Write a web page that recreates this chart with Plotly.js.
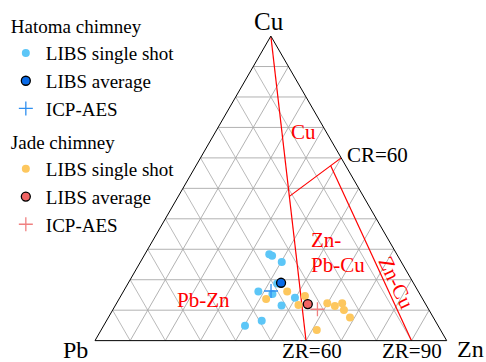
<!DOCTYPE html>
<html>
<head>
<meta charset="utf-8">
<script src="https://cdn.plot.ly/plotly-3.0.1.min.js"></script>
<style>
  html, body { margin: 0; padding: 0; background: #fff; }
  #chart { width: 486px; height: 362px; }
</style>
</head>
<body>
<div id="chart"></div>
<script>
// Cu–Pb–Zn compositions (wt% of Cu+Pb+Zn)
const hatomaShotCu = [28.4, 27.9, 25.8, 16.1, 15.3, 18.8, 11.5, 14.1, 6.5, 4.9];
const hatomaShotPb = [36.3, 35.7, 34.0, 45.5, 41.9, 38.8, 41.2, 36.1, 49.4, 54.9];
const hatomaShotZn = [35.4, 36.4, 40.2, 38.4, 42.8, 42.4, 47.3, 49.8, 44.2, 40.2];
const hatomaAvgCu = [19.0], hatomaAvgPb = [37.6], hatomaAvgZn = [43.4];
const hatomaIcpCu = [16.3], hatomaIcpPb = [41.8], hatomaIcpZn = [41.9];

const jadeShotCu = [13.7, 16.1, 11.7, 14.7, 12.3, 11.4, 12.3, 10.1, 7.6, 3.5];
const jadeShotPb = [44.5, 37.3, 36.3, 33.0, 27.8, 26.1, 23.6, 24.2, 23.7, 35.2];
const jadeShotZn = [41.8, 46.6, 52.0, 52.4, 59.9, 62.5, 64.2, 65.8, 68.7, 61.3];
const jadeAvgCu = [12.0], jadeAvgPb = [33.5], jadeAvgZn = [54.5];
const jadeIcpCu = [10.3], jadeIcpPb = [31.6], jadeIcpZn = [58.1];

// Ore-type boundaries: ZR = 100*Zn/(Zn+Pb), CR = 100*Cu/(Cu+Zn)
const zr60Cu = [100, 0],       zr60Pb = [0, 40],      zr60Zn = [0, 60];
const cr60Cu = [60, 47.37],    cr60Pb = [0, 21.05],   cr60Zn = [40, 31.58];
const zr90Cu = [57.45, 0],     zr90Pb = [4.26, 10],   zr90Zn = [38.30, 90];

const serif = 'Liberation Serif';
const W = 486, H = 362;
const px = x => x / W;
const py = y => 1 - y / H;

function pts(name, group, groupTitle, a, b, c, marker, first) {
  const t = {
    type: 'scatterternary', mode: 'markers', name: name,
    a: a, b: b, c: c, marker: marker,
    legendgroup: group, hoverinfo: 'skip', cliponaxis: false
  };
  if (first) t.legendgrouptitle = { text: groupTitle, font: { family: serif, size: 19, color: '#000' } };
  return t;
}
function boundary(a, b, c) {
  return {
    type: 'scatterternary', mode: 'lines', a: a, b: b, c: c,
    line: { color: '#ff0000', width: 1.2 }, showlegend: false, hoverinfo: 'skip'
  };
}

const traces = [
  boundary(zr60Cu, zr60Pb, zr60Zn),
  boundary(cr60Cu, cr60Pb, cr60Zn),
  boundary(zr90Cu, zr90Pb, zr90Zn),
  pts('LIBS single shot', 'hatoma', 'Hatoma chimney', hatomaShotCu, hatomaShotPb, hatomaShotZn,
      { color: '#5cc6f7', size: 8 }, true),
  pts('LIBS average', 'hatoma', '', hatomaAvgCu, hatomaAvgPb, hatomaAvgZn,
      { color: '#0a6be8', size: 9, line: { color: '#000', width: 1.3 } }),
  pts('ICP-AES', 'hatoma', '', hatomaIcpCu, hatomaIcpPb, hatomaIcpZn,
      { color: '#2f8ff0', size: 10, symbol: 'cross-thin', line: { color: '#2f8ff0', width: 1.3 } }),
  pts('LIBS single shot', 'jade', 'Jade chimney', jadeShotCu, jadeShotPb, jadeShotZn,
      { color: '#fdc75e', size: 8 }, true),
  pts('LIBS average', 'jade', '', jadeAvgCu, jadeAvgPb, jadeAvgZn,
      { color: '#f06464', size: 9, line: { color: '#000', width: 1.3 } }),
  pts('ICP-AES', 'jade', '', jadeIcpCu, jadeIcpPb, jadeIcpZn,
      { color: '#f08080', size: 10, symbol: 'cross-thin', line: { color: '#f08080', width: 1.3 } })
];

const axisStyle = {
  title: { text: '' }, min: 0, tick0: 0, dtick: 10,
  showticklabels: false, ticks: '',
  showgrid: true, gridcolor: '#a8a8a8', gridwidth: 0.8,
  showline: true, linecolor: '#000', linewidth: 1
};

function label(text, x, y, size, color, extra) {
  return Object.assign({
    text: text, x: px(x), y: py(y), xref: 'paper', yref: 'paper',
    showarrow: false, xanchor: 'center', yanchor: 'middle', borderpad: 0,
    font: { family: serif, size: size, color: color }
  }, extra || {});
}

const layout = {
  width: W, height: H,
  margin: { l: 0, r: 0, t: 0, b: 0 },
  paper_bgcolor: '#fff',
  font: { family: serif, size: 19, color: '#000' },
  showlegend: true,
  legend: {
    x: 0.012, y: 0.982, xanchor: 'left', yanchor: 'top',
    traceorder: 'grouped', tracegroupgap: 5,
    font: { family: serif, size: 19, color: '#000' },
    bgcolor: 'rgba(0,0,0,0)', itemwidth: 30
  },
  ternary: {
    sum: 100,
    domain: { x: [95 / W, 446.7 / W], y: [(H - 340.7) / H, (H - 36) / H] },
    bgcolor: '#fff',
    aaxis: axisStyle, baxis: axisStyle, caxis: axisStyle
  },
  annotations: [
    label('Cu', 268.5, 21, 25, '#000'),
    label('Pb', 75.5, 350, 24, '#000'),
    label('Zn', 470, 349, 24, '#000'),
    label('CR=60', 346, 155, 21, '#000', { xanchor: 'left' }),
    label('ZR=60', 311.7, 350.5, 21, '#000'),
    label('ZR=90', 411.7, 350.5, 21, '#000'),
    label('Cu', 303.5, 132, 21, '#ff0000'),
    label('Zn-', 309.5, 240, 21, '#ff0000', { xanchor: 'left' }),
    label('Pb-Cu', 309.5, 265, 21, '#ff0000', { xanchor: 'left' }),
    label('Pb-Zn', 203.7, 300, 21, '#ff0000'),
    label('Zn-Cu', 396, 282, 21, '#ff0000', { textangle: 64.5 })
  ]
};

Plotly.newPlot('chart', traces, layout, { staticPlot: true, displayModeBar: false });
</script>
</body>
</html>
